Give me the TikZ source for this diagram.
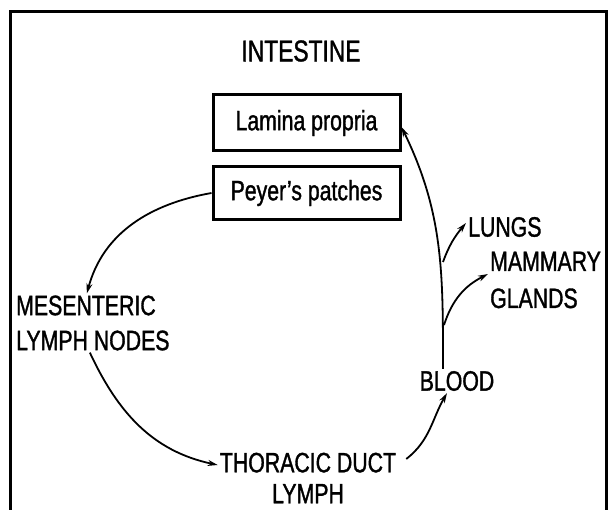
\documentclass[tikz,border=0pt]{standalone}
\usepackage{fontspec}
\setmainfont{Liberation Sans}[FakeStretch=0.76, FakeBold=1.2]
\usepackage{tikz}
\usetikzlibrary{arrows.meta}

\begin{document}
\begin{tikzpicture}[x=1pt, y=1pt,
    lbl/.style = {font=\fontsize{28}{35}\selectfont, inner sep=2pt},
    organ/.style = {draw, line width=3pt, minimum width=187pt, inner sep=0pt, font=\fontsize{28}{35}\selectfont},
    flow/.style = {line width=1.8pt, -{Stealth[length=10pt, width=6pt]}}]
        \useasboundingbox (0,0) rectangle (610,-510);
        \draw[line width=3pt] (10,-510) -- (10,-12) -- (606,-12) -- (606,-510);
        \node[lbl, font=\fontsize{30}{36}\selectfont] (intestine) at (301,-51) {INTESTINE};
        \node[organ, minimum height=56pt] (lamina) at (306.5,-123) {Lamina propria};
        \node[organ, minimum height=53pt] (peyer) at (306.5,-193) {Peyer's patches};
        \node[lbl, anchor=west, align=left] (mesenteric) at (14,-323) {MESENTERIC\\LYMPH NODES};
        \node[lbl, align=center, font=\fontsize{28}{31}\selectfont] (thoracic) at (308,-478) {THORACIC DUCT\\LYMPH};
        \node[lbl] (blood) at (457,-381) {BLOOD};
        \node[lbl, anchor=west] (lungs) at (466,-227) {LUNGS};
        \node[lbl, anchor=west, align=left, font=\fontsize{28}{37}\selectfont] (mammary) at (488,-280) {MAMMARY\\GLANDS};
        \coordinate (fork1) at (443,-262);
        \coordinate (fork2) at (444,-325);
        \draw[flow] (peyer.west) to[out=190, in=75] ([xshift=-6pt]mesenteric.north);
        \draw[flow] ([xshift=-3pt]mesenteric.south) to[out=-65, in=168] ([yshift=13pt]thoracic.west);
        \draw[flow] ([xshift=8pt, yshift=19pt]thoracic.east) to[out=38, in=240] ([xshift=-10pt]blood.south);
        \draw[flow] ([xshift=-14pt]blood.north) to[out=90, in=-64] ([yshift=-4pt]lamina.east);
        \draw[flow] (fork1) to[out=70, in=230] ([yshift=4pt]lungs.west);
        \draw[flow] (fork2) to[out=72, in=207] ([yshift=6pt]mammary.west);
      \end{tikzpicture}
\end{document}
